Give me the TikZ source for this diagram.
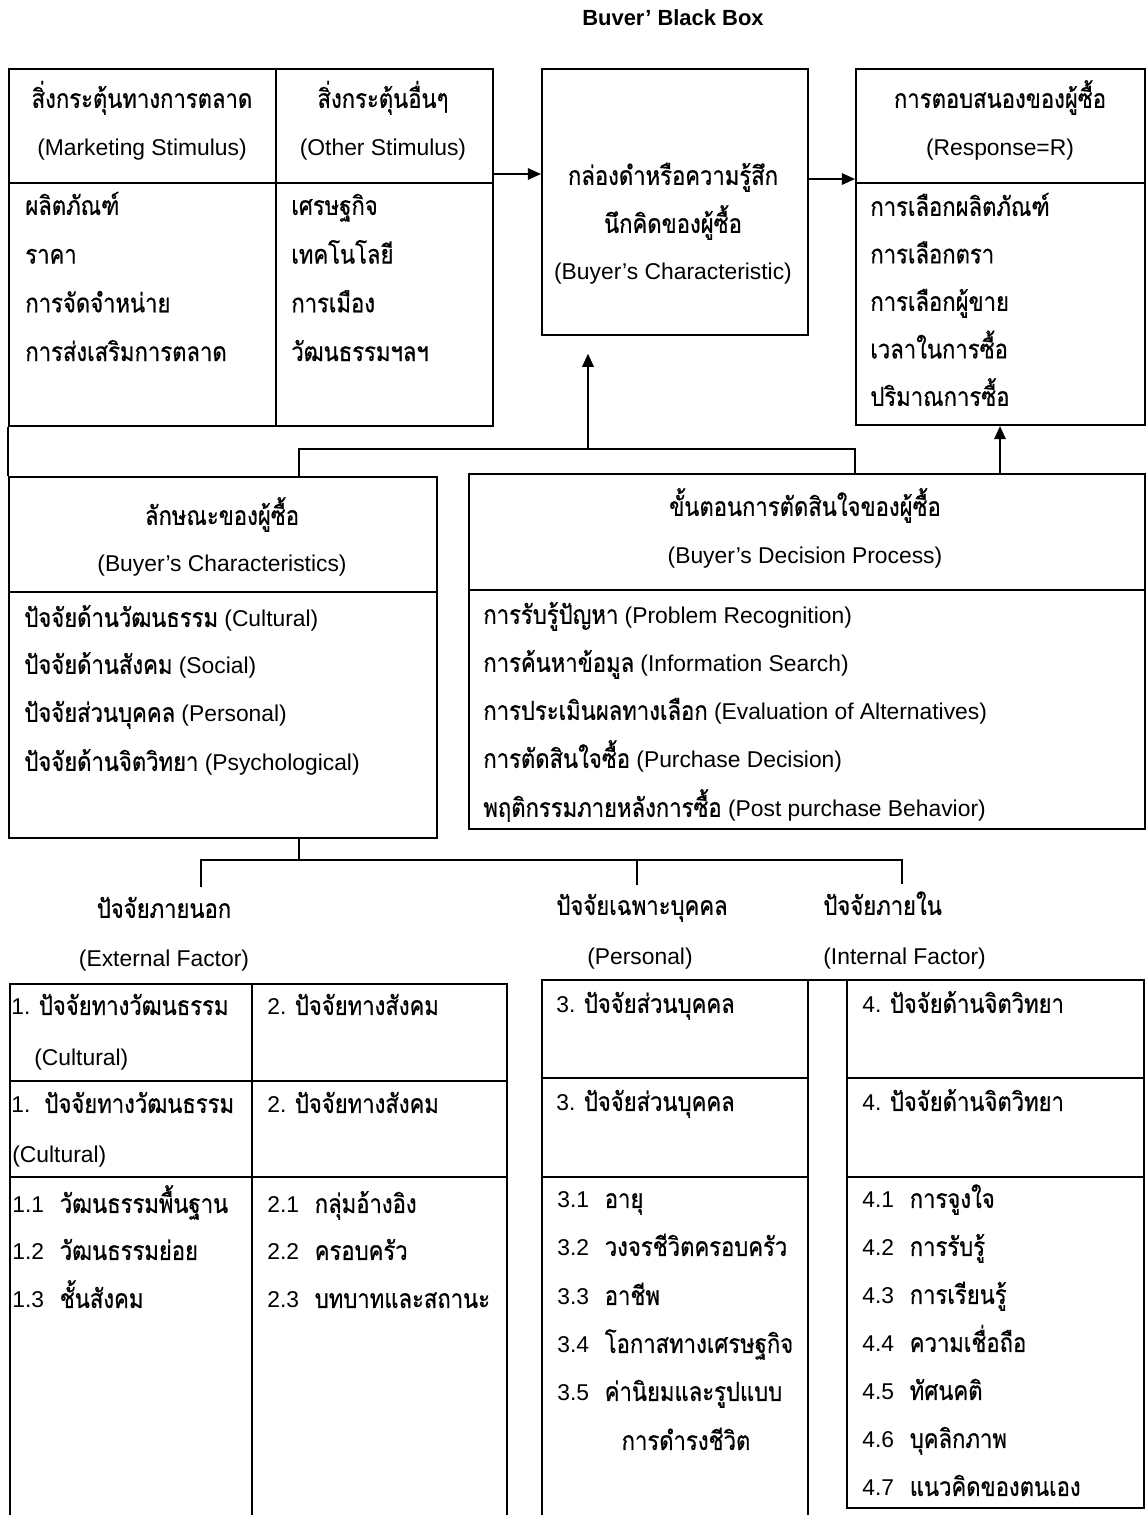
\documentclass[tikz,border=0pt]{standalone}
\usepackage{fontspec}
\setmainfont{Liberation Sans}
\newfontfamily\thf[Script=Thai, Scale=1.15, FakeStretch=0.84, FakeBold=0.6]{Loma}
\usetikzlibrary{arrows.meta}
\tikzset{
  bbtitle/.style={font=\bfseries\fontsize{12.5}{14}\selectfont, inner sep=0pt},
  bbtext/.style={font=\fontsize{13}{15}\selectfont, inner sep=0pt,
    text height=11.5pt, text depth=2.5pt},
  bbitem/.style={bbtext, anchor=west},
  bbbox/.style={draw, line width=1.2pt, inner sep=0pt, anchor=north west},
  bbline/.style={line width=1.2pt},
  bbflow/.style={-{Triangle[length=7.5pt,width=6.5pt]}, line width=1.2pt}
}
\newcommand\bbnum[2]{\makebox[27pt][l]{#1}{\thf #2}}
\begin{document}
\begin{tikzpicture}[x=0.02cm, y=-0.02cm]
\useasboundingbox (0,0) rectangle (1146,1515);

\node[bbtitle] (title) at (673,18) {Buver’ Black Box};

% top row
\node[bbbox, minimum width=9.68cm, minimum height=7.14cm] (stim) at (8,68) {};
\node[bbbox, minimum width=5.32cm, minimum height=5.32cm] (bbox) at (541,68) {};
\node[bbbox, minimum width=5.78cm, minimum height=7.12cm] (resp) at (855,68) {};
\draw[bbline] (stim.west |- 0,183) -- (stim.east |- 0,183);
\draw[bbline] (stim.north -| 276,0) -- (stim.south -| 276,0);
\draw[bbline] (resp.west |- 0,183) -- (resp.east |- 0,183);

\node[bbtext] (mkth) at (142,100) {\thf สิ่งกระตุ้นทางการตลาด};
\node[bbtext] (mken) at (142,148) {(Marketing Stimulus)};
\node[bbtext] (otth) at (383,100) {\thf สิ่งกระตุ้นอื่นๆ};
\node[bbtext] (oten) at (383,148) {(Other Stimulus)};
\foreach \t [count=\i from 0] in {ผลิตภัณฑ์, ราคา, การจัดจำหน่าย, การส่งเสริมการตลาด}
  \node[bbitem] (mk-\i) at (25,207+48.7*\i) {\thf \t};
\foreach \t [count=\i from 0] in {เศรษฐกิจ, เทคโนโลยี, การเมือง, วัฒนธรรมฯลฯ}
  \node[bbitem] (ot-\i) at (291,207+48.7*\i) {\thf \t};

\node[bbtext] (bb1) at (673,177) {\thf กล่องดำหรือความรู้สึก};
\node[bbtext] (bb2) at (673,225) {\thf นึกคิดของผู้ซื้อ};
\node[bbtext] (bb3) at (673,272) {(Buyer’s Characteristic)};

\node[bbtext] (rsth) at (1000,100) {\thf การตอบสนองของผู้ซื้อ};
\node[bbtext] (rsen) at (1000,148) {(Response=R)};
\foreach \t [count=\i from 0] in {การเลือกผลิตภัณฑ์, การเลือกตรา, การเลือกผู้ขาย, เวลาในการซื้อ, ปริมาณการซื้อ}
  \node[bbitem] (rs-\i) at (870,208+47.5*\i) {\thf \t};

\draw[bbflow] (stim.east |- 0,174) -- (bbox.west |- 0,174);
\draw[bbflow] (bbox.east |- 0,179) -- (resp.west |- 0,179);

% middle row
\node[bbbox, minimum width=8.56cm, minimum height=7.22cm] (chars) at (8,476) {};
\node[bbbox, minimum width=13.52cm, minimum height=7.10cm] (decis) at (468,473) {};
\draw[bbline] (chars.west |- 0,592) -- (chars.east |- 0,592);
\draw[bbline] (decis.west |- 0,590) -- (decis.east |- 0,590);

\node[bbtext] (chth) at (222,517) {\thf ลักษณะของผู้ซื้อ};
\node[bbtext] (chen) at (222,564) {(Buyer’s Characteristics)};
\node[bbitem] (ch-0) at (24,619) {{\thf ปัจจัยด้านวัฒนธรรม} (Cultural)};
\node[bbitem] (ch-1) at (24,666) {{\thf ปัจจัยด้านสังคม} (Social)};
\node[bbitem] (ch-2) at (24,714) {{\thf ปัจจัยส่วนบุคคล} (Personal)};
\node[bbitem] (ch-3) at (24,763) {{\thf ปัจจัยด้านจิตวิทยา} (Psychological)};

\node[bbtext] (dcth) at (805,508) {\thf ขั้นตอนการตัดสินใจของผู้ซื้อ};
\node[bbtext] (dcen) at (805,556) {(Buyer’s Decision Process)};
\node[bbitem] (dc-0) at (483,616) {{\thf การรับรู้ปัญหา} (Problem Recognition)};
\node[bbitem] (dc-1) at (483,664) {{\thf การค้นหาข้อมูล} (Information Search)};
\node[bbitem] (dc-2) at (483,712) {{\thf การประเมินผลทางเลือก} (Evaluation of Alternatives)};
\node[bbitem] (dc-3) at (483,760) {{\thf การตัดสินใจซื้อ} (Purchase Decision)};
\node[bbitem] (dc-4) at (483,809) {{\thf พฤติกรรมภายหลังการซื้อ} (Post purchase Behavior)};

\draw[bbline] (stim.south west) -- (chars.north west);
\coordinate (busup) at (588,449);
\draw[bbline] (chars.north -| 299,0) |- (busup) -| (decis.north -| 855,0);
\draw[bbflow, shorten >=10pt] (busup) -- (bbox.south -| busup);
\draw[bbflow] (decis.north -| 1000,0) -- (resp.south -| 1000,0);

% factor tree
\coordinate (split) at (299,860);
\coordinate (extTop) at (201,887);
\coordinate (perTop) at (637,885);
\coordinate (intTop) at (902,884);
\draw[bbline] (chars.south -| split) -- (split);
\draw[bbline] (extTop) |- (intTop |- split) -- (intTop);
\draw[bbline] (perTop |- split) -- (perTop);

\node[bbtext] (exth) at (164,910) {\thf ปัจจัยภายนอก};
\node[bbtext] (exen) at (164,959) {(External Factor)};
\node[bbtext] (peth) at (642,907) {\thf ปัจจัยเฉพาะบุคคล};
\node[bbtext] (peen) at (640,957) {(Personal)};
\node[bbitem] (inth) at (823,907) {\thf ปัจจัยภายใน};
\node[bbitem] (inen) at (823,957) {(Internal Factor)};

% factor tables
\draw[bbline] (10,1515) |- (507,984) -- (507,1515);
\draw[bbline] (252,984) -- (252,1515);
\draw[bbline] (10,1081) -- (507,1081);
\draw[bbline] (10,1177) -- (507,1177);
\draw[bbline] (542,1515) |- (847,980);
\draw[bbline] (808,980) -- (808,1515);
\draw[bbline] (847,980) -- (1144,980) -- (1144,1508) -- (847,1508) -- (847,980);
\draw[bbline] (542,1078) -- (808,1078);
\draw[bbline] (542,1177) -- (808,1177);
\draw[bbline] (847,1078) -- (1144,1078);
\draw[bbline] (847,1177) -- (1144,1177);

\node[bbitem] (cu-a) at (11,1007) {1. {\thf ปัจจัยทางวัฒนธรรม}};
\node[bbitem] (cu-b) at (34,1058) {(Cultural)};
\node[bbitem] (cu-c) at (11,1105) {1.\hspace{8pt}{\thf ปัจจัยทางวัฒนธรรม}};
\node[bbitem] (cu-d) at (12,1155) {(Cultural)};
\node[bbitem] (so-a) at (267,1007) {2. {\thf ปัจจัยทางสังคม}};
\node[bbitem] (so-b) at (267,1105) {2. {\thf ปัจจัยทางสังคม}};
\node[bbitem] (pe-a) at (556,1005) {3. {\thf ปัจจัยส่วนบุคคล}};
\node[bbitem] (pe-b) at (556,1103) {3. {\thf ปัจจัยส่วนบุคคล}};
\node[bbitem] (ps-a) at (862,1005) {4. {\thf ปัจจัยด้านจิตวิทยา}};
\node[bbitem] (ps-b) at (862,1103) {4. {\thf ปัจจัยด้านจิตวิทยา}};

\node[bbitem] (cu-0) at (12,1205) {\bbnum{1.1}{วัฒนธรรมพื้นฐาน}};
\node[bbitem] (cu-1) at (12,1252) {\bbnum{1.2}{วัฒนธรรมย่อย}};
\node[bbitem] (cu-2) at (12,1300) {\bbnum{1.3}{ชั้นสังคม}};
\node[bbitem] (so-0) at (267,1205) {\bbnum{2.1}{กลุ่มอ้างอิง}};
\node[bbitem] (so-1) at (267,1252) {\bbnum{2.2}{ครอบครัว}};
\node[bbitem] (so-2) at (267,1300) {\bbnum{2.3}{บทบาทและสถานะ}};
\node[bbitem] (pe-0) at (557,1200) {\bbnum{3.1}{อายุ}};
\node[bbitem] (pe-1) at (557,1248) {\bbnum{3.2}{วงจรชีวิตครอบครัว}};
\node[bbitem] (pe-2) at (557,1297) {\bbnum{3.3}{อาชีพ}};
\node[bbitem] (pe-3) at (557,1345) {\bbnum{3.4}{โอกาสทางเศรษฐกิจ}};
\node[bbitem] (pe-4) at (557,1393) {\bbnum{3.5}{ค่านิยมและรูปแบบ}};
\node[bbtext] (pe-5) at (686,1442) {\thf การดำรงชีวิต};
\foreach \t [count=\i from 0, evaluate=\i as \n using int(\i+1)] in {การจูงใจ, การรับรู้, การเรียนรู้, ความเชื่อถือ, ทัศนคติ, บุคลิกภาพ, แนวคิดของตนเอง}
  \node[bbitem] (ps-\i) at (862,1200+48*\i) {\bbnum{4.\n}{\t}};
\end{tikzpicture}
\end{document}
